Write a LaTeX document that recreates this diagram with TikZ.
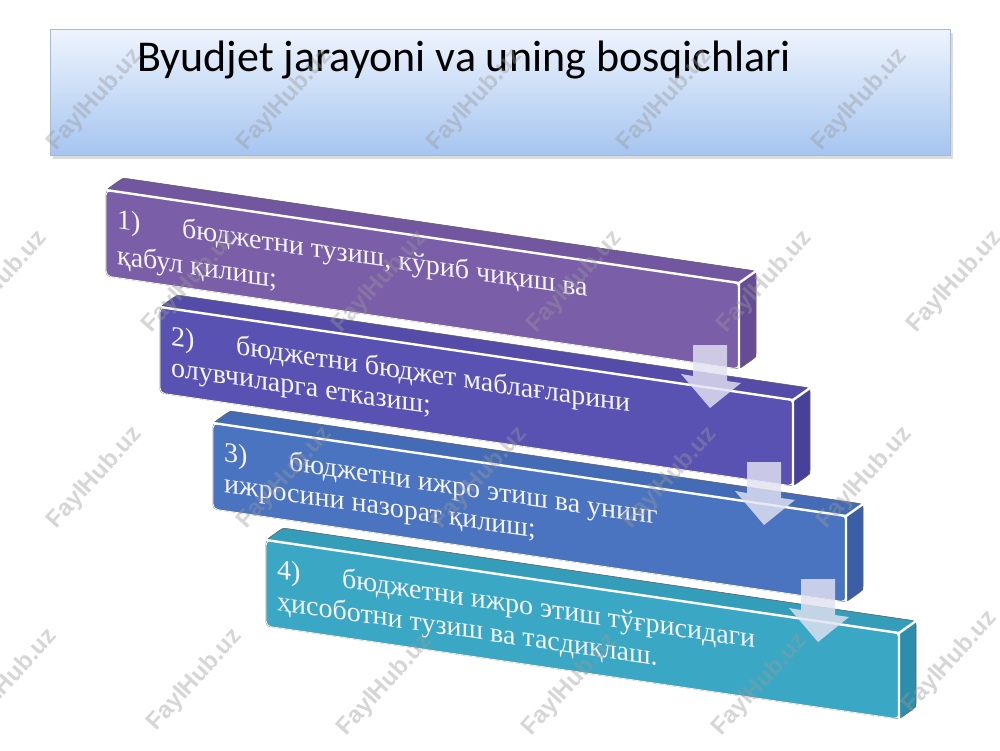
\documentclass[tikz,border=0pt]{standalone}
\usepackage{fontspec}
\setmainfont{Liberation Serif}
\newfontfamily\titlefont{Carlito}
\newfontfamily\wmfont{Liberation Sans}
\definecolor{titletop}{RGB}{238,244,253}
\definecolor{titlebot}{RGB}{166,197,240}
\definecolor{titleborder}{RGB}{170,185,210}
\definecolor{fA}{RGB}{122,94,168}\definecolor{tA}{RGB}{114,87,160}\definecolor{sA}{RGB}{102,76,148}
\definecolor{fB}{RGB}{90,82,178}\definecolor{tB}{RGB}{84,76,168}\definecolor{sB}{RGB}{72,65,154}
\definecolor{fC}{RGB}{74,116,192}\definecolor{tC}{RGB}{68,108,182}\definecolor{sC}{RGB}{58,95,166}
\definecolor{fD}{RGB}{58,168,196}\definecolor{tD}{RGB}{52,158,186}\definecolor{sD}{RGB}{44,142,170}
\definecolor{arrowfill}{RGB}{226,226,242}
\definecolor{boxtextcol}{RGB}{246,244,252}
\tikzset{
  boxtext/.style={anchor=base west, inner sep=0pt, text=boxtextcol, yslant=-0.146,
    font=\fontsize{28}{30}\selectfont},
  outerline/.style={draw=gray!75!black, line width=0.6pt, rounded corners=4pt},
  whiteedge/.style={draw=white, line width=2.4pt, line cap=round, line join=round},
  arrowshape/.style={fill=arrowfill, fill opacity=0.82},
  watermark/.style={text=gray!80, text opacity=0.4, rotate=48, inner sep=0pt,
    font=\wmfont\bfseries\fontsize{24}{24}\selectfont},
}
% #1 name, #2 x0, #3 y0, #4 front, #5 top, #6 side, #7 line 1, #8 line 2, #9 line 2 baseline
\newcommand\stagebox[9]{%
  \begin{scope}[shift={(#2,#3)}]
    \coordinate (#1-A) at (0,0);
    \coordinate (#1-B) at (633,93);
    \coordinate (#1-C) at (633,179);
    \coordinate (#1-D) at (0,86);
    \coordinate (#1-Ab) at (17,-12);
    \coordinate (#1-Bb) at (650,81);
    \coordinate (#1-Cb) at (650,167);
    \fill[#5] (#1-A) -- (#1-Ab) -- (#1-Bb) -- (#1-B) -- cycle;
    \fill[#6] (#1-B) -- (#1-Bb) -- (#1-Cb) -- (#1-C) -- cycle;
    \fill[#4, rounded corners=5pt] (#1-A) -- (#1-B) -- (#1-C) -- (#1-D) -- cycle;
    \draw[outerline] (#1-D) -- (#1-A) -- (#1-Ab) -- (#1-Bb) -- (#1-Cb) -- (#1-C) -- cycle;
    \draw[white, line width=0.8pt, rounded corners=5pt] (#1-A) -- (#1-B) -- (#1-C) -- (#1-D) -- cycle;
    \draw[whiteedge] (#1-A) -- (#1-B) -- (#1-C);
    \draw[whiteedge] (#1-B) -- (#1-Bb);
    \node[boxtext] (#1-t1) at (11,38) {#7};
    \node[boxtext] (#1-t2) at (11,#9) {#8};
  \end{scope}}
% #1 centre x, #2 top y
\newcommand\flowarrow[2]{%
  \fill[arrowshape, shift={(#1,#2)}] (-17,0) -- (17,0) -- (17,36) -- (31,38) -- (0,63)
    -- (-29,29) -- (-17,31) -- cycle;}
\begin{document}
\begin{tikzpicture}[x=1pt, y=-1pt]
  \useasboundingbox (0,0) rectangle (1000,750);
  \fill[white] (0,0) rectangle (1000,750);
  % title
  \fill[gray!45, opacity=0.6] (53,33) rectangle (953,159);
  \node[draw=titleborder, line width=0.6pt, top color=titletop, bottom color=titlebot,
        minimum width=900pt, minimum height=126pt, anchor=north west, inner sep=0pt]
        (titlebox) at (50,29) {};
  \node[anchor=base west, inner sep=0pt, font=\titlefont\fontsize{44}{44}\selectfont]
        (title) at (137,71) {Byudjet jarayoni va uning bosqichlari};
  % stages
  \stagebox{s1}{106}{190}{fA}{tA}{sA}
    {\makebox[65pt][l]{1)}бюджетни тузиш, кўриб чиқиш ва}{қабул қилиш;}{74}
  \stagebox{s2}{160}{307}{fB}{tB}{sB}
    {\makebox[65pt][l]{2)}бюджетни бюджет маблағларини}{олувчиларга етказиш;}{69}
  \stagebox{s3}{213}{423}{fC}{tC}{sC}
    {\makebox[65pt][l]{3)}бюджетни ижро этиш ва унинг}{ижросини назорат қилиш;}{69}
  \stagebox{s4}{266}{540}{fD}{tD}{sD}
    {\makebox[65pt][l]{4)}бюджетни ижро этиш тўғрисидаги}{ҳисоботни тузиш ва тасдиқлаш.}{70}
  % arrows
  \flowarrow{710}{345}
  \flowarrow{764}{462}
  \flowarrow{818}{579}
  % watermarks
  \foreach \wx/\wy [count=\i] in {95/100,285/100,475/100,665/100,860/100,
      0/282,190/282,380/282,575/282,765/282,955/282,
      95/478,285/478,480/478,670/478,865/478,
      10/680,195/680,385/685,570/685,760/685,950/662}
    \node[watermark] (wm\i) at (\wx,\wy) {FaylHub.uz};
\end{tikzpicture}
\end{document}
